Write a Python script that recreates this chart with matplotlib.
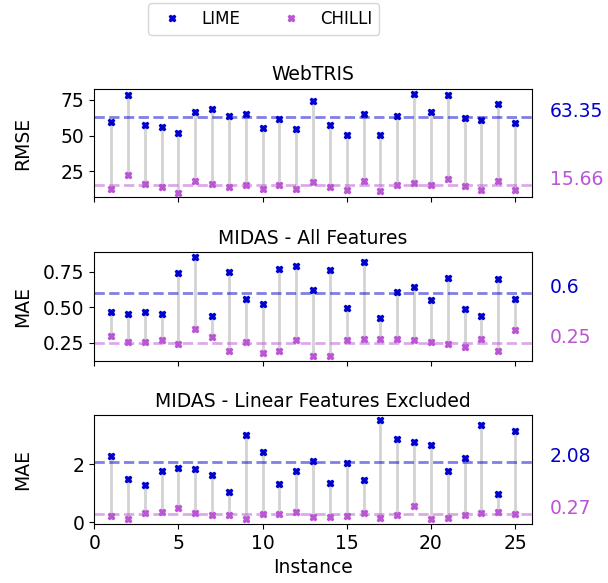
import matplotlib
matplotlib.use("Agg")
import matplotlib.pyplot as plt
from matplotlib.lines import Line2D

instances = list(range(1, 26))

# WebTRIS (RMSE)
webtris_lime = [59.4, 78.7, 57.8, 56.4, 51.7, 66.6, 68.5, 63.4, 65.2, 55.4,
                61.3, 55.0, 74.1, 57.3, 50.3, 65.2, 50.5, 64.0, 79.4, 66.6,
                78.5, 62.2, 60.6, 72.2, 58.7]
webtris_chilli = [12.9, 22.6, 16.1, 14.3, 10.3, 18.5, 16.6, 14.5, 15.7, 12.6,
                  15.7, 13.1, 18.0, 14.3, 11.9, 18.7, 11.5, 15.4, 17.3, 15.7,
                  19.6, 15.2, 12.4, 18.2, 12.4]
webtris_means = [63.35, 15.66]

# MIDAS - all features (MAE)
midas_all_lime = [0.468, 0.454, 0.466, 0.452, 0.736, 0.853, 0.440, 0.748, 0.555, 0.522,
                  0.771, 0.790, 0.621, 0.762, 0.494, 0.818, 0.424, 0.607, 0.640, 0.546,
                  0.705, 0.485, 0.440, 0.696, 0.553]
midas_all_chilli = [0.295, 0.255, 0.257, 0.269, 0.241, 0.344, 0.292, 0.187, 0.257, 0.175,
                    0.189, 0.266, 0.156, 0.158, 0.271, 0.273, 0.273, 0.273, 0.266, 0.252,
                    0.238, 0.219, 0.273, 0.189, 0.339]
midas_all_means = [0.6, 0.25]

# MIDAS - linear features excluded (MAE)
midas_nolin_lime = [2.28, 1.49, 1.27, 1.75, 1.87, 1.85, 1.61, 1.05, 3.02, 2.42,
                    1.31, 1.78, 2.12, 1.35, 2.05, 1.45, 3.52, 2.87, 2.76, 2.65,
                    1.78, 2.21, 3.37, 0.96, 3.14]
midas_nolin_chilli = [0.20, 0.12, 0.33, 0.34, 0.48, 0.33, 0.24, 0.26, 0.10, 0.28,
                      0.27, 0.34, 0.17, 0.18, 0.22, 0.30, 0.14, 0.24, 0.56, 0.12,
                      0.13, 0.25, 0.33, 0.34, 0.27]
midas_nolin_means = [2.08, 0.27]

paineis = [
    ("WebTRIS", "RMSE", webtris_lime, webtris_chilli, webtris_means),
    ("MIDAS - All Features", "MAE", midas_all_lime, midas_all_chilli, midas_all_means),
    ("MIDAS - Linear Features Excluded", "MAE", midas_nolin_lime, midas_nolin_chilli, midas_nolin_means),
]

cor_lime = "mediumblue"
cor_chilli = "mediumorchid"
fs = 13.5

fig, axes = plt.subplots(3, 1, figsize=(6.08, 5.83), dpi=100, sharex=True)
fig.subplots_adjust(left=0.155, right=0.875, top=0.848, bottom=0.101, hspace=0.5)

for ax, (titulo, metrica, lime, chilli, medias) in zip(axes, paineis):
    ax.vlines(instances, chilli, lime, color="lightgrey", linewidth=2, zorder=1)
    ax.plot(instances, lime, "X", color=cor_lime, markersize=5, linestyle="none", zorder=3)
    ax.plot(instances, chilli, "X", color=cor_chilli, markersize=5, linestyle="none", zorder=3)
    ax.axhline(medias[0], color=cor_lime, linestyle="--", linewidth=2, alpha=0.5, zorder=2)
    ax.axhline(medias[1], color=cor_chilli, linestyle="--", linewidth=2, alpha=0.5, zorder=2)
    ax.text(27.05, medias[0], str(medias[0]), color=cor_lime, fontsize=fs, clip_on=False)
    ax.text(27.05, medias[1], str(medias[1]), color=cor_chilli, fontsize=fs, clip_on=False)
    ax.set_title(titulo, fontsize=fs)
    ax.set_ylabel(metrica, fontsize=fs, labelpad=8)
    ax.tick_params(labelsize=fs)
    ax.set_xlim(0, 26)

axes[-1].set_xlabel("Instance", fontsize=fs)
fig.align_ylabels(axes)

handles = [
    Line2D([], [], marker="X", color=cor_lime, linestyle="none", markersize=5),
    Line2D([], [], marker="X", color=cor_chilli, linestyle="none", markersize=5),
]
fig.legend(handles, ["LIME", "CHILLI"], loc="upper center", ncol=2,
           bbox_to_anchor=(0.434, 1.0), borderaxespad=0.2, fontsize=12)

fig.savefig("out.png", dpi=100)
